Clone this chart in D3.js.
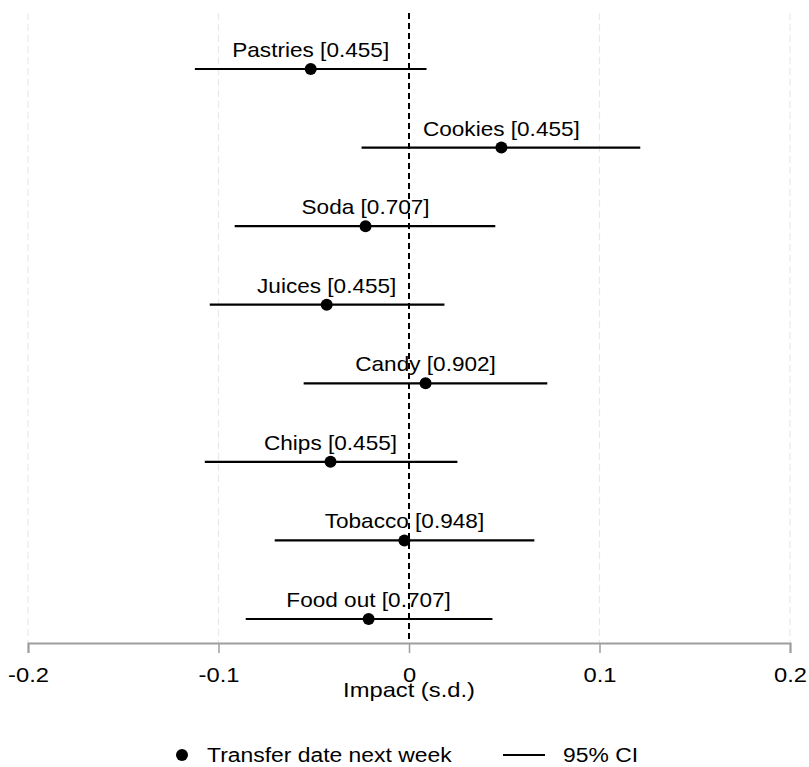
<!DOCTYPE html>
<html>
<head>
<meta charset="utf-8">
<script src="https://cdn.jsdelivr.net/npm/d3@7"></script>
<style>
  body { margin: 0; background: #fff; }
  text { font-family: "Liberation Sans", Arial, sans-serif; fill: #000; }
</style>
</head>
<body>
<svg id="chart" width="809" height="767"></svg>
<script>
const width = 809, height = 767;

// values
const items = ['Pastries', 'Cookies', 'Soda', 'Juices', 'Candy', 'Chips', 'Tobacco', 'Food out'];
const pvals = ['0.455', '0.455', '0.707', '0.455', '0.902', '0.455', '0.948', '0.707'];
const estimates = [-0.0516, 0.0485, -0.0228, -0.0432, 0.0087, -0.0412, -0.0024, -0.0212];
const ci_low = [-0.1124, -0.0249, -0.0915, -0.1046, -0.0553, -0.1072, -0.0705, -0.0857];
const ci_high = [0.0092, 0.1214, 0.0453, 0.0186, 0.0726, 0.0254, 0.0658, 0.0438];
const x_ticks = [-0.2, -0.1, 0, 0.1, 0.2];

const stretch = 1.13; // text in the picture is a bit wider than Arial

const svg = d3.select('#chart');

const x = d3.scaleLinear()
  .domain([-0.2, 0.2])
  .range([28, 790]);

const y = d3.scalePoint()
  .domain(items)
  .range([69, 619]);

const axis_y = 643;

// faint dashed grid
svg.append('g')
  .selectAll('line')
  .data(x_ticks.filter(d => d !== 0))
  .join('line')
  .attr('x1', d => x(d)).attr('x2', d => x(d))
  .attr('y1', 13).attr('y2', axis_y)
  .attr('stroke', '#e9e9e9')
  .attr('stroke-width', 1.2)
  .attr('stroke-dasharray', '7,4');

// zero line
svg.append('line')
  .attr('x1', x(0)).attr('x2', x(0))
  .attr('y1', 13).attr('y2', axis_y)
  .attr('stroke', '#000')
  .attr('stroke-width', 2)
  .attr('stroke-dasharray', '6,4');

const rows = items.map((d, i) => ({
  name: d, p: pvals[i], est: estimates[i], lo: ci_low[i], hi: ci_high[i]
}));

const row = svg.append('g')
  .selectAll('g')
  .data(rows)
  .join('g');

row.append('line')
  .attr('x1', d => x(d.lo)).attr('x2', d => x(d.hi))
  .attr('y1', d => y(d.name)).attr('y2', d => y(d.name))
  .attr('stroke', '#000')
  .attr('stroke-width', 2.2);

row.append('circle')
  .attr('cx', d => x(d.est))
  .attr('cy', d => y(d.name))
  .attr('r', 6)
  .attr('fill', '#000');

row.append('text')
  .attr('transform', d => `translate(${x(d.est)},${y(d.name) - 12}) scale(${stretch},1)`)
  .attr('text-anchor', 'middle')
  .attr('font-size', 20)
  .text(d => `${d.name} [${d.p}]`);

// x axis, plain hyphen for the minus sign as in the picture
const ax = svg.append('g')
  .attr('transform', `translate(0,${axis_y})`)
  .call(d3.axisBottom(x).tickValues(x_ticks).tickSize(10)
    .tickFormat(d => d === 0 ? '0' : (d < 0 ? '-' : '') + Math.abs(d).toFixed(1)));

ax.select('.domain').attr('stroke', '#9e9e9e').attr('stroke-width', 2);
ax.selectAll('.tick line').attr('stroke', '#9e9e9e').attr('stroke-width', 1.5);
ax.selectAll('.tick text')
  .attr('y', 0)
  .attr('dy', 0)
  .attr('transform', `translate(0,39) scale(${stretch},1)`)
  .attr('font-size', 21)
  .attr('font-family', '"Liberation Sans", Arial, sans-serif')
  .attr('fill', '#000');

svg.append('text')
  .attr('transform', `translate(${x(0)},697) scale(${stretch},1)`)
  .attr('text-anchor', 'middle')
  .attr('font-size', 21)
  .text('Impact (s.d.)');

// legend
const legend_stretch = 1.09;
const legend = svg.append('g');
legend.append('circle').attr('cx', 182).attr('cy', 755).attr('r', 6).attr('fill', '#000');
legend.append('text')
  .attr('transform', `translate(207,762) scale(${legend_stretch},1)`)
  .attr('font-size', 21)
  .text('Transfer date next week');
legend.append('line')
  .attr('x1', 503).attr('x2', 545).attr('y1', 755).attr('y2', 755)
  .attr('stroke', '#000').attr('stroke-width', 2.2);
legend.append('text')
  .attr('transform', `translate(563,762) scale(${legend_stretch},1)`)
  .attr('font-size', 21)
  .text('95% CI');
</script>
</body>
</html>
